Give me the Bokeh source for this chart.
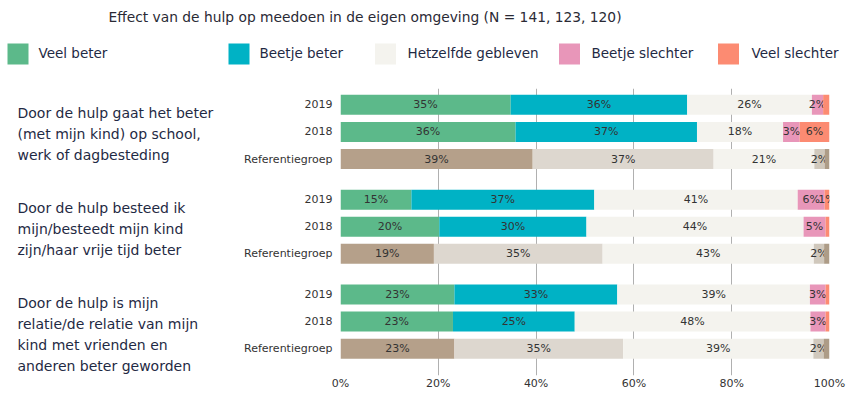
from bokeh.plotting import figure
from bokeh.models import Range1d, FixedTicker, ColumnDataSource, PrintfTickFormatter
from bokeh.layouts import row
from bokeh.core.properties import value
from bokeh.embed import file_html
from bokeh.resources import INLINE
import numpy as np

FONT = "DejaVu Sans"

title = "Effect van de hulp op meedoen in de eigen omgeving (N = 141, 123, 120)"

categories = ["Veel beter", "Beetje beter", "Hetzelfde gebleven", "Beetje slechter", "Veel slechter"]
colors_main = ["#5cb98a", "#00b2c5", "#f4f3ee", "#e896b9", "#fc8b72"]
colors_ref = ["#b5a08a", "#ddd7cf", "#f4f3ee", "#d0c8bc", "#ad9c87"]

groups = [
    ["Door de hulp gaat het beter", "(met mijn kind) op school,", "werk of dagbesteding"],
    ["Door de hulp besteed ik", "mijn/besteedt mijn kind", "zijn/haar vrije tijd beter"],
    ["Door de hulp is mijn", "relatie/de relatie van mijn", "kind met vrienden en", "anderen beter geworden"],
]
rows = ["2019", "2018", "Referentiegroep"]

# values per row (group1: 2019, 2018, Ref; group2 ...; group3 ...)
veel_beter      = [34.8, 35.8, 39.3, 14.5, 20.2, 19.1, 23.3, 23.0, 23.3]
beetje_beter    = [36.1, 37.1, 37.0, 37.4, 30.1, 34.5, 33.3, 24.9, 34.5]
hetzelfde       = [25.5, 17.6, 20.6, 41.6, 44.4, 43.2, 39.4, 48.2, 38.9]
beetje_slechter = [2.3, 3.4, 2.1, 5.5, 4.5, 2.1, 3.2, 3.1, 2.1]
veel_slechter   = [1.3, 6.1, 1.0, 1.0, 0.8, 1.1, 0.8, 0.8, 1.2]

lbl_veel_beter      = ["35%", "36%", "39%", "15%", "20%", "19%", "23%", "23%", "23%"]
lbl_beetje_beter    = ["36%", "37%", "37%", "37%", "30%", "35%", "33%", "25%", "35%"]
lbl_hetzelfde       = ["26%", "18%", "21%", "41%", "44%", "43%", "39%", "48%", "39%"]
lbl_beetje_slechter = ["2%", "3%", "2%", "6%", "5%", "2%", "3%", "3%", "2%"]
lbl_veel_slechter   = ["", "6%", "", "1%", "", "", "", "", ""]

x_ticks = [0, 20, 40, 60, 80, 100]

series = [veel_beter, beetje_beter, hetzelfde, beetje_slechter, veel_slechter]
series_lbl = [lbl_veel_beter, lbl_beetje_beter, lbl_hetzelfde, lbl_beetje_slechter, lbl_veel_slechter]

# layout of rows (units: 2 per bar step)
ROW_STEP = 2.0
GROUP_STEP = 7.0
ypos = []
for g in range(len(groups)):
    for r in range(len(rows)):
        ypos.append(-(g * GROUP_STEP + r * ROW_STEP))

PPU = 13.55  # pixels per y unit
# ---------- top figure: title + legend ----------
top = figure(width=848, height=78, x_range=Range1d(0, 848), y_range=Range1d(78, 0),
             x_axis_type=None, y_axis_type=None, output_backend="svg",
             toolbar_location=None, min_border=0, outline_line_color=None)
top.grid.visible = False
top.text(x=[108], y=[16], text=[title], text_font=value(FONT), text_font_size="13.8px",
         text_color="#2a2a35", text_align="left", text_baseline="middle")
leg_sq_x = [17.5, 238.5, 385, 569, 728]
leg_tx_x = [38, 259, 407, 591, 751]
top.rect(x=leg_sq_x, y=[53.5] * 5, width=21, height=21, fill_color=colors_main, line_color=None)
top.text(x=leg_tx_x, y=[52.7] * 5, text=categories, text_font=value(FONT), text_font_size="13.5px",
         text_color="#1f2a44", text_align="left", text_baseline="middle")

# ---------- main figure ----------
yr = Range1d(-(375 - 104.3) / PPU, 16.3 / PPU)
p = figure(width=608, height=320, x_range=Range1d(0, 100), y_range=yr,
           output_backend="svg", toolbar_location=None,
           min_border_left=100, min_border_right=19, min_border_top=10, min_border_bottom=23,
           outline_line_color=None)

left = np.zeros(len(ypos))
for k, (vals, lbls) in enumerate(zip(series, series_lbl)):
    vals = np.array(vals)
    cols = [colors_ref[k] if (i % 3 == 2) else colors_main[k] for i in range(len(ypos))]
    right = left + vals
    src = ColumnDataSource(dict(y=ypos, left=left, right=right, color=cols,
                                xc=(left + right) / 2, lbl=lbls))
    p.hbar(y="y", left="left", right="right", height=20 / PPU, fill_color="color",
           line_color=None, source=src)
    p.text(x="xc", y="y", text="lbl", source=src, text_font=value(FONT), text_font_size="11px",
           text_color="#333333", text_align="center", text_baseline="middle")
    left = right

p.xaxis.ticker = FixedTicker(ticks=x_ticks)
p.xaxis.formatter = PrintfTickFormatter(format="%d%%")
p.xaxis.axis_line_color = None
p.xaxis.major_tick_line_color = None
p.xaxis.minor_tick_line_color = None
p.xaxis.major_tick_out = 0
p.xaxis.major_label_standoff = 1
p.xaxis.major_label_text_font = FONT
p.xaxis.major_label_text_font_size = "11px"
p.xaxis.major_label_text_color = "#333333"

p.yaxis.ticker = FixedTicker(ticks=ypos)
p.yaxis.major_label_overrides = {int(y): rows[i % 3] for i, y in enumerate(ypos)}
p.yaxis.axis_line_color = None
p.yaxis.major_tick_line_color = None
p.yaxis.minor_tick_line_color = None
p.yaxis.major_tick_out = 0
p.yaxis.major_label_standoff = 8
p.yaxis.major_label_text_font = FONT
p.yaxis.major_label_text_font_size = "11px"
p.yaxis.major_label_text_color = "#333333"

p.ygrid.grid_line_color = None
p.xgrid.grid_line_color = "#b0b0b0"
p.xgrid.grid_line_width = 1

# ---------- left figure: group descriptions ----------
lf = figure(width=240, height=320, x_range=Range1d(0, 240), y_range=yr,
            x_axis_type=None, y_axis_type=None, output_backend="svg",
            toolbar_location=None, min_border_left=0, min_border_right=0,
            min_border_top=10, min_border_bottom=23, outline_line_color=None)
lf.grid.visible = False

gx, gy, gt = [], [], []
for g, lines in enumerate(groups):
    y0 = -(g * GROUP_STEP) - 8.0 / PPU
    for j, line in enumerate(lines):
        gx.append(17)
        gy.append(y0 - j * 21.0 / PPU)
        gt.append(line)
lf.text(x=gx, y=gy, text=gt, text_font=value(FONT), text_font_size="14px",
        text_color="#1f2a44", text_align="left", text_baseline="middle")

open("out.html", "w").write(file_html([top, row(lf, p)], INLINE))
